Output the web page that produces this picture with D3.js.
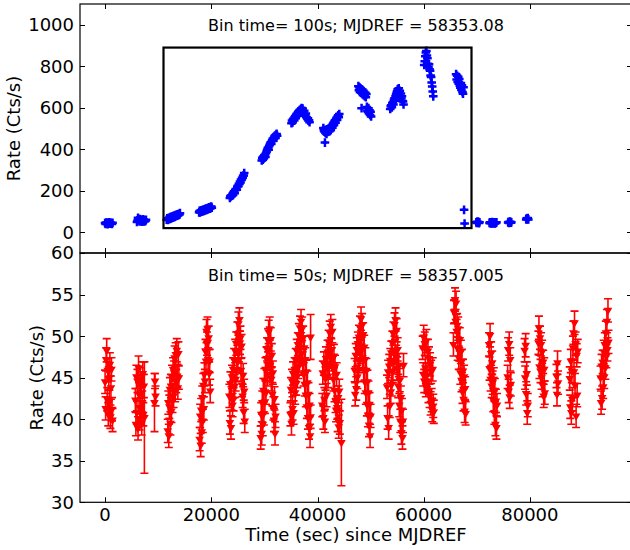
<!DOCTYPE html>
<html><head><meta charset="utf-8">
<script src="https://cdn.jsdelivr.net/npm/d3@7"></script>
<style>body{margin:0;background:#fff} text{font-family:"DejaVu Sans",sans-serif;fill:#000}</style>
</head><body><svg id="c" width="630" height="550"></svg>
<script>
// ---------------- data ----------------
const xTicks = [0, 20000, 40000, 60000, 80000];
const topYTicks = [0, 200, 400, 600, 800, 1000];
const botYTicks = [30, 35, 40, 45, 50, 55, 60];
const topTitle = "Bin time= 100s; MJDREF = 58353.08";
const botTitle = "Bin time= 50s; MJDREF = 58357.005";
const xLabel = "Time (sec) since MJDREF";
const yLabel = "Rate (Cts/s)";

// top light curve (100 s bins): segment start times and rates
const topStep = 100;
const topSegStart = [0, 6000, 11600, 17700, 23500, 29500, 35100, 41100, 47700, 53700, 60100, 66100, 69900, 72400, 75900, 79300];
const topSegRates = [
  [44, 40, 47, 42, 46, 39, 45, 42, 48, 41, 46, 44, 42, 40, 46],
  [50, 57, 70, 61, 58, 52, 64, 56, 53, 60, 51, 59, 63, 55, 52, 58, 54, 60],
  [60, 67, 59, 68, 63, 70, 64, 73, 67, 74, 69, 77, 71, 79, 73, 80, 75, 83, 78, 85, 80, 87, 82, 89, 85, 92],
  [96, 103, 95, 105, 99, 106, 100, 108, 102, 110, 104, 112, 106, 114, 108, 116, 110, 118, 112, 120, 114, 122, 116, 124, 118],
  [165, 175, 172, 178, 176, 186, 180, 192, 197, 188, 203, 209, 207, 205, 219, 224, 222, 234, 233, 244, 240, 254, 252, 263, 262, 272, 273, 285],
  [346, 359, 350, 365, 356, 371, 374, 363, 381, 388, 395, 402, 409, 398, 416, 422, 428, 434, 425, 440, 445, 452, 441, 456, 461, 466, 454, 470, 474, 465],
  [525, 538, 529, 544, 548, 538, 554, 560, 549, 566, 571, 560, 576, 582, 571, 586, 590, 580, 594, 598, 584, 596, 580, 574, 585, 568, 562, 572, 556, 552, 546, 550, 538, 540, 530],
  [502, 492, 485, 432, 478, 494, 474, 496, 483, 488, 499, 486, 502, 506, 492, 510, 516, 504, 522, 528, 516, 534, 540, 528, 546, 552, 541, 558, 564, 554, 570],
  [704, 684, 698, 676, 694, 672, 598, 688, 666, 682, 661, 676, 656, 672, 651, 666, 604, 586, 580, 598, 572, 588, 565, 581, 558],
  [594, 608, 612, 602, 622, 628, 616, 638, 646, 634, 656, 664, 672, 680, 689, 676, 694, 668, 682, 656, 669, 644, 656, 632, 630, 616],
  [806, 824, 848, 866, 874, 852, 838, 812, 798, 810, 786, 778, 756, 748, 722, 702, 678, 655],
  [762, 736, 754, 724, 749, 716, 739, 706, 696, 719, 686, 709, 676, 668, 699, 108, 42],
  [48, 45, 51, 47, 50, 44, 48],
  [45, 48, 43, 47, 44, 49, 43, 46, 48, 44, 42, 47, 45, 48],
  [47, 50, 45, 49, 51, 46, 48],
  [62, 67, 63, 69, 62]
];
const topErr = 3;

// bottom light curve: segment start times and rates (plotted every 100 s)
const botStep = 100;
const botSegStart = [0, 5700, 11800, 17800, 23400, 29300, 34900, 40900, 47000, 53100, 59800, 65600, 72300, 75800, 79000, 81600, 85000, 87500, 93300];
const botSegRates = [
  [44.5, 41.3, 47.2, 48.3, 42.4, 45.9, 40.6, 44.9, 42.1, 46.6, 40.3, 43.8, 46.0, 41.2, 39.9],
  [42.3, 39.4, 45.1, 40.8, 44.6, 38.9, 46.2, 43.0, 40.1, 44.8, 41.2, 43.9, 39.5, 42.0, 45.5, 40.6, 44.0],
  [38.6, 42.0, 38.0, 41.5, 43.6, 39.5, 44.0, 41.0, 45.1, 42.2, 46.0, 42.8, 45.6, 47.4, 43.5, 47.8, 44.6, 48.3, 45.2, 43.8, 47.9, 45.0],
  [37.6, 40.4, 36.9, 41.1, 38.5, 42.6, 39.8, 44.1, 41.3, 45.4, 44.6, 48.2, 47.0, 50.6, 49.1, 50.9, 47.2, 49.8, 45.5, 47.0, 43.4],
  [42.8, 39.6, 44.3, 39.0, 42.5, 45.1, 41.7, 46.0, 42.4, 47.1, 44.0, 48.2, 44.8, 49.1, 46.0, 50.3, 47.0, 51.5, 48.3, 52.0, 49.2, 49.8, 45.9, 48.8, 44.1, 42.8, 45.3, 40.9, 43.4, 39.8],
  [37.8, 40.6, 38.3, 42.0, 39.4, 43.5, 40.7, 44.7, 42.1, 46.0, 43.2, 47.3, 48.4, 45.4, 49.5, 50.5, 47.4, 50.9, 46.5, 49.6, 44.8, 47.7, 43.0, 45.6, 41.3, 39.9, 42.5, 38.3, 40.4],
  [40.6, 43.6, 39.5, 44.6, 41.3, 45.5, 40.8, 44.3, 46.0, 43.2, 47.1, 44.3, 48.2, 45.2, 49.0, 46.3, 50.1, 47.2, 51.0, 48.6, 51.8, 47.9, 50.9, 46.7, 49.8, 45.4, 48.6, 44.2, 47.2, 42.9, 45.7, 41.5, 44.4, 40.2, 43.0, 39.0, 41.7, 38.0, 40.3],
  [41.7, 45.6, 40.2, 46.7, 42.4, 39.8, 44.9, 47.3, 42.9, 46.2, 48.1, 45.2, 49.3, 46.4, 50.4, 47.5, 51.2, 48.3, 47.2, 50.6, 46.2, 44.8, 47.6, 43.5, 46.3, 42.2, 41.1, 45.4, 41.4, 39.9, 42.6, 39.1, 43.4, 39.6],
  [45.9, 43.0, 47.7, 43.7, 48.4, 45.1, 49.1, 45.9, 49.9, 47.0, 51.0, 48.1, 52.1, 48.8, 51.3, 47.4, 50.2, 46.0, 48.7, 44.5, 47.2, 43.2, 45.9, 41.8, 44.5, 40.5, 43.2, 39.3, 41.8, 38.0, 40.4],
  [43.9, 40.2, 45.7, 39.0, 46.4, 41.6, 47.1, 43.3, 48.0, 44.2, 49.2, 45.8, 50.3, 47.0, 51.4, 48.2, 52.0, 47.5, 50.7, 46.1, 48.4, 44.0, 46.5, 41.7, 44.7, 39.8, 42.6, 38.4, 41.1, 37.8, 39.8, 46.5],
  [48.6, 45.4, 49.9, 44.6, 49.1, 46.2, 44.1, 49.4, 45.3, 44.5, 48.2, 43.4, 47.3, 42.8, 46.6, 41.9, 45.7, 42.3, 41.1, 46.0, 41.6, 40.9],
  [49.0, 52.9, 53.0, 54.4, 51.8, 54.0, 50.6, 51.3, 48.5, 50.9, 47.4, 48.4, 49.6, 45.6, 48.1, 44.7, 47.0, 43.3, 45.8, 42.4, 45.1, 41.0, 43.7, 40.7],
  [49.0, 46.1, 50.1, 44.8, 47.9, 44.0, 46.8, 44.4, 42.3, 44.8, 40.8, 43.5, 39.4, 42.2, 39.0, 41.7],
  [45.1, 48.4, 43.4, 49.1, 42.7, 47.2, 44.2],
  [48.3, 45.0, 48.9, 43.1, 45.5, 40.8, 41.7],
  [49.2, 51.0, 46.3, 49.8, 45.8, 49.0, 45.0, 48.1, 44.1, 46.9, 42.8, 46.0, 43.2],
  [45.2, 43.0, 46.8, 44.4],
  [44.9, 41.5, 47.0, 40.8, 45.8, 42.4, 48.6, 50.4, 45.7, 51.6, 44.1, 49.1, 40.4, 47.7, 42.9, 48.2],
  [45.0, 42.0, 46.4, 42.6, 46.9, 43.9, 48.1, 45.1, 49.0, 46.2, 50.4, 47.6, 51.8, 48.4, 53.1, 49.3]
];
const botErr = 1.4;
// isolated / large-error points
const botExtraTime = [7400, 9300, 9400, 9500, 38700, 44500];
const botExtraRate = [40.2, 42.0, 44.6, 42.8, 49.9, 37.2];
const botExtraErr  = [6.7, 3.5, 0.9, 1.2, 2.7, 5.2];

// highlighted box in top panel (time range, rate range)
const boxTime = [11000, 69000];
const boxRate = [20, 890];

// ---------------- build point tables ----------------
const topPts = [];
topSegStart.forEach((s, i) => topSegRates[i].forEach((r, j) => topPts.push({t: s + j * topStep, r, e: topErr})));
const botPts = [];
botSegStart.forEach((s, i) => botSegRates[i].forEach((r, j) => botPts.push({t: s + j * botStep, r, e: botErr})));
botExtraTime.forEach((t, i) => botPts.push({t, r: botExtraRate[i], e: botExtraErr[i]}));

// ---------------- layout ----------------
const svg = d3.select("#c");
const L = 80, R = 632, T1 = 4, B1 = 253, T2 = 253, B2 = 502.3;
const x = d3.scaleLinear().domain([-4725, 99225]).range([L, R]);
const yTop = d3.scaleLinear().domain([-100, 1100]).range([B1, T1]);
const yBot = d3.scaleLinear().domain([30, 60]).range([B2, T2]);

const defs = svg.append("defs");
defs.append("clipPath").attr("id", "clipTop").append("rect").attr("x", L).attr("y", T1).attr("width", R - L).attr("height", B1 - T1);
defs.append("clipPath").attr("id", "clipBot").append("rect").attr("x", L).attr("y", T2).attr("width", R - L).attr("height", B2 - T2);

const TL = 5; // tick length (inward)

function panel(y, top, bottom, yTicks, showX, clipId, pts, color, kind) {
  const g = svg.append("g");
  const data = g.append("g").attr("clip-path", `url(#${clipId})`);
  // error bars
  const cap = kind === "plus" ? 2 : 4;
  const eb = data.append("g").attr("stroke", color).attr("stroke-width", kind === "plus" ? 1.2 : 1.6).attr("fill", "none");
  pts.forEach(p => {
    const y0 = y(p.r - p.e), y1 = y(p.r + p.e), xx = x(p.t);
    eb.append("path").attr("d", `M${xx},${y0}V${y1}M${xx - cap},${y0}H${xx + cap}M${xx - cap},${y1}H${xx + cap}`);
  });
  // markers
  if (kind === "plus") {
    const m = data.append("g").attr("stroke", color).attr("stroke-width", 2.5);
    pts.forEach(p => {
      const xx = x(p.t), yy = y(p.r), s = 4.3;
      m.append("path").attr("d", `M${xx - s},${yy}H${xx + s}M${xx},${yy - s}V${yy + s}`);
    });
  } else {
    const sym = d3.symbol().type(d3.symbolTriangle).size(32);
    data.append("g").selectAll("path").data(pts).join("path")
      .attr("d", sym).attr("fill", color)
      .attr("transform", p => `translate(${x(p.t)},${y(p.r)}) rotate(180)`);
  }
  // ticks
  const tk = g.append("g").attr("stroke", "#000").attr("stroke-width", 1);
  yTicks.forEach(v => {
    const yy = Math.round(y(v)) + 0.5;
    tk.append("line").attr("x1", L).attr("x2", L + TL).attr("y1", yy).attr("y2", yy);
    tk.append("line").attr("x1", R).attr("x2", R - TL).attr("y1", yy).attr("y2", yy);
  });
  xTicks.forEach(v => {
    const xx = Math.round(x(v)) + 0.5;
    tk.append("line").attr("x1", xx).attr("x2", xx).attr("y1", top).attr("y2", top + TL);
    tk.append("line").attr("x1", xx).attr("x2", xx).attr("y1", bottom).attr("y2", bottom - TL);
  });
  // tick labels
  g.append("g").selectAll("text").data(yTicks).join("text")
    .attr("x", L - 6).attr("y", v => y(v)).attr("dy", "0.36em")
    .attr("text-anchor", "end").attr("font-size", 18).text(v => v);
  if (showX) {
    g.append("g").selectAll("text").data(xTicks).join("text")
      .attr("x", v => x(v)).attr("y", bottom + 19)
      .attr("text-anchor", "middle").attr("font-size", 18).text(v => v);
  }
  // frame
  g.append("rect").attr("x", L).attr("y", top).attr("width", R - L).attr("height", bottom - top)
    .attr("fill", "none").attr("stroke", "#000").attr("stroke-width", 1.2);
  return g;
}

const gTop = panel(yTop, T1, B1, topYTicks, false, "clipTop", topPts, "#0000ff", "plus");
// highlight box
gTop.append("rect")
  .attr("x", x(boxTime[0])).attr("y", yTop(boxRate[1]))
  .attr("width", x(boxTime[1]) - x(boxTime[0])).attr("height", yTop(boxRate[0]) - yTop(boxRate[1]))
  .attr("fill", "none").attr("stroke", "#000").attr("stroke-width", 2.2);
gTop.append("text").attr("x", (L + R) / 2).attr("y", 31).attr("text-anchor", "middle").attr("font-size", 16).text(topTitle);

const gBot = panel(yBot, T2, B2, botYTicks, true, "clipBot", botPts, "#ff0000", "tri");
gBot.append("text").attr("x", (L + R) / 2).attr("y", 281).attr("text-anchor", "middle").attr("font-size", 16).text(botTitle);

// axis labels
svg.append("text").attr("transform", `translate(20,${(T1 + B1) / 2}) rotate(-90)`)
  .attr("text-anchor", "middle").attr("font-size", 18).text(yLabel);
svg.append("text").attr("transform", `translate(43,${(T2 + B2) / 2}) rotate(-90)`)
  .attr("text-anchor", "middle").attr("font-size", 18).text(yLabel);
svg.append("text").attr("x", (L + R) / 2).attr("y", 541).attr("text-anchor", "middle").attr("font-size", 18).text(xLabel);
</script></body></html>
